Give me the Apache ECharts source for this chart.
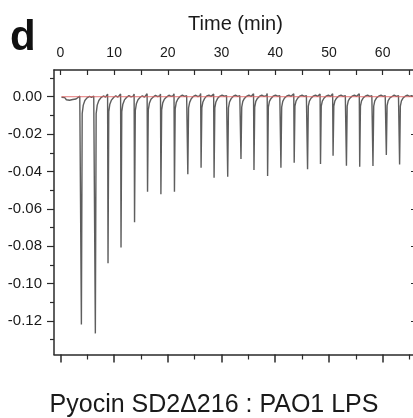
<!DOCTYPE html>
<html>
<head>
<meta charset="utf-8">
<script src="https://cdn.jsdelivr.net/npm/echarts@6/dist/echarts.min.js"></script>
<style>html,body{margin:0;padding:0;background:#fff;}#c{width:413px;height:418px;}</style>
</head>
<body>
<div id="c"></div>
<script>
// Time axis ticks (min)
const timeTicks = [0, 10, 20, 30, 40, 50, 60];
const timeMinorTicks = [5, 15, 25, 35, 45, 55, 65];
// Heat-rate axis ticks
const heatTicks = [0, -0.02, -0.04, -0.06, -0.08, -0.10, -0.12];
const heatMinorTicks = [0.01, -0.01, -0.03, -0.05, -0.07, -0.09, -0.11, -0.13];
// Baseline fit (red line)
const baselineFit = [[0.2, 0], [66.6, 0]];
// Raw ITC trace [time (min), heat rate]
const rawTrace = [
  [0.2,-0.0003],[0.5,-0.0012],[0.8,-0.0005],[1.1,-0.0016],[1.4,-0.0008],[1.7,-0.0019],[2.0,-0.001],[2.3,-0.0015],[2.6,-0.0006],[2.9,-0.0012],[3.2,-0.0004],[3.6,0.0003],[3.8,0.0012],
  [3.9,-0.1218],[4.05,-0.009],[4.25,-0.0045],[4.55,-0.002],[4.95,-0.0006],[5.4,0.0002],[5.8,-0.0003],[6.2,0.0004],[6.4,0.0013],
  [6.5,-0.1266],[6.65,-0.009],[6.85,-0.0045],[7.15,-0.002],[7.55,-0.0005],[8.0,0.0004],[8.4,-0.0002],[8.65,0.0003],[8.78,0.0014],
  [8.86,-0.0891],[9.0,-0.008],[9.2,-0.004],[9.5,-0.0018],[9.9,-0.0004],[10.3,0.0005],[10.7,-0.0002],[11.05,0.0004],[11.2,0.0015],
  [11.28,-0.0806],[11.42,-0.008],[11.62,-0.004],[11.92,-0.0017],[12.3,-0.0004],[12.75,0.0006],[13.15,-0.0001],[13.55,0.0003],[13.72,0.0014],
  [13.8,-0.0672],[13.94,-0.0075],[14.14,-0.0038],[14.44,-0.0016],[14.85,-0.0003],[15.25,0.0005],[15.65,-0.0002],[16.0,0.0004],[16.14,0.0016],
  [16.22,-0.0508],[16.36,-0.007],[16.56,-0.0035],[16.86,-0.0014],[17.25,-0.0002],[17.7,0.0007],[18.1,0.0001],[18.5,0.0004],[18.63,0.0015],
  [18.71,-0.0522],[18.85,-0.007],[19.05,-0.0033],[19.35,-0.0013],[19.75,-0.0002],[20.2,0.0008],[20.6,0.0002],[21.0,0.0005],[21.15,0.0016],
  [21.23,-0.0508],[21.37,-0.0065],[21.57,-0.003],[21.87,-0.0012],[22.25,0.0001],[22.7,0.0009],[23.1,0.0002],[23.5,0.0005],[23.64,0.0015],
  [23.72,-0.0415],[23.86,-0.006],[24.06,-0.003],[24.36,-0.0011],[24.75,0.0002],[25.2,0.0008],[25.6,0.0001],[25.98,0.0006],[26.11,0.0017],
  [26.19,-0.038],[26.33,-0.006],[26.53,-0.0028],[26.83,-0.001],[27.2,0.0003],[27.65,0.0009],[28.05,0.0002],[28.4,0.0005],[28.53,0.0014],
  [28.61,-0.0433],[28.75,-0.006],[28.95,-0.0028],[29.25,-0.001],[29.65,0.0002],[30.1,0.0009],[30.5,0.0003],[30.93,0.0006],[31.07,0.0016],
  [31.15,-0.0428],[31.29,-0.006],[31.49,-0.0028],[31.79,-0.001],[32.2,0.0003],[32.6,0.0008],[33.0,0.0002],[33.4,0.0005],[33.54,0.0015],
  [33.62,-0.0333],[33.76,-0.0055],[33.96,-0.0025],[34.26,-0.0009],[34.65,0.0002],[35.1,0.0009],[35.5,0.0001],[35.83,0.0006],[35.96,0.0016],
  [36.04,-0.0392],[36.18,-0.0055],[36.38,-0.0025],[36.68,-0.0009],[37.1,0.0003],[37.5,0.0008],[37.9,0.0002],[38.37,0.0006],[38.5,0.0017],
  [38.58,-0.0424],[38.72,-0.0055],[38.92,-0.0025],[39.22,-0.0009],[39.6,0.0003],[40.05,0.0009],[40.45,0.0003],[40.85,0.0005],[40.98,0.0015],
  [41.06,-0.038],[41.2,-0.0055],[41.4,-0.0025],[41.7,-0.0008],[42.1,0.0003],[42.55,0.0009],[42.95,0.0002],[43.32,0.0006],[43.45,0.0016],
  [43.53,-0.0353],[43.67,-0.005],[43.87,-0.0023],[44.17,-0.0008],[44.55,0.0003],[45.0,0.0008],[45.4,0.0002],[45.8,0.0006],[45.94,0.0016],
  [46.02,-0.0388],[46.16,-0.005],[46.36,-0.0023],[46.66,-0.0008],[47.05,0.0003],[47.5,0.0009],[47.9,0.0002],[48.22,0.0005],[48.35,0.0015],
  [48.43,-0.036],[48.57,-0.005],[48.77,-0.0023],[49.07,-0.0008],[49.45,0.0003],[49.9,0.0008],[50.3,0.0002],[50.56,0.0006],[50.69,0.0016],
  [50.77,-0.0316],[50.91,-0.005],[51.11,-0.0022],[51.41,-0.0008],[51.8,0.0003],[52.25,0.0009],[52.65,0.0002],[53.05,0.0006],[53.18,0.0015],
  [53.26,-0.0369],[53.4,-0.005],[53.6,-0.0022],[53.9,-0.0008],[54.3,0.0003],[54.75,0.0008],[55.15,0.0002],[55.52,0.0006],[55.65,0.0016],
  [55.73,-0.0375],[55.87,-0.005],[56.07,-0.0022],[56.37,-0.0007],[56.75,0.0003],[57.2,0.0009],[57.6,0.0002],[57.99,0.0005],[58.12,0.0015],
  [58.2,-0.0371],[58.34,-0.005],[58.54,-0.0022],[58.84,-0.0007],[59.25,0.0003],[59.7,0.0008],[60.1,0.0002],[60.48,0.0006],[60.61,0.0016],
  [60.69,-0.0312],[60.83,-0.0048],[61.03,-0.0021],[61.33,-0.0007],[61.7,0.0003],[62.15,0.0009],[62.55,0.0002],[62.95,0.0006],[63.08,0.0015],
  [63.16,-0.0362],[63.3,-0.005],[63.5,-0.0022],[63.8,-0.0007],[64.2,0.0003],[64.6,0.0008],[65.0,0.0002],[65.4,0.0006],[65.8,0.0001],[66.2,0.0004],[66.6,0.0002]
];

const FONT = 'Liberation Sans, Arial, sans-serif';
const AX = '#2a2a2a';
const X_MIN = -1.2, X_MAX = 66.4;
const Y_MIN = -0.1379, Y_MAX = 0.0143;

const chart = echarts.init(document.getElementById('c'), null, {renderer: 'canvas'});
const xBase = {type: 'value', gridIndex: 0, min: X_MIN, max: X_MAX, splitLine: {show: false}};
const yBase = {type: 'value', gridIndex: 0, min: Y_MIN, max: Y_MAX, splitLine: {show: false}};

chart.setOption({
  animation: false,
  backgroundColor: '#fff',
  grid: {left: 54, top: 70, width: 363, height: 284.5, containLabel: false, outerBoundsMode: 'none'},
  xAxis: [
    Object.assign({}, xBase, {
      position: 'bottom',
      axisLine: {show: true, onZero: false, lineStyle: {color: AX, width: 1.5}},
      axisTick: {show: true, inside: false, length: 8, customValues: timeTicks, lineStyle: {color: AX, width: 1.5}},
      axisLabel: {show: false}
    }),
    Object.assign({}, xBase, {
      position: 'bottom',
      axisLine: {show: false, onZero: false},
      axisTick: {show: true, inside: false, length: 5, customValues: timeMinorTicks, lineStyle: {color: AX, width: 1.2}},
      axisLabel: {show: false}
    }),
    Object.assign({}, xBase, {
      position: 'top',
      name: 'Time (min)',
      nameLocation: 'middle',
      nameGap: 36,
      nameTextStyle: {fontFamily: FONT, fontSize: 20, color: '#1a1a1a'},
      axisLine: {show: true, onZero: false, lineStyle: {color: AX, width: 1.5}},
      axisTick: {show: true, inside: true, length: 5, customValues: timeTicks.concat(timeMinorTicks), lineStyle: {color: AX, width: 1.2}},
      axisLabel: {show: true, customValues: timeTicks, margin: 10, fontFamily: FONT, fontSize: 14, color: '#1a1a1a'}
    })
  ],
  yAxis: [
    Object.assign({}, yBase, {
      position: 'left',
      axisLine: {show: true, onZero: false, lineStyle: {color: AX, width: 1.5}},
      axisTick: {show: true, inside: false, length: 7, customValues: heatTicks, lineStyle: {color: AX, width: 1.2}},
      axisLabel: {show: true, customValues: heatTicks, margin: 12, fontFamily: FONT, fontSize: 15, color: '#1a1a1a',
        formatter: v => v.toFixed(2)}
    }),
    Object.assign({}, yBase, {
      position: 'left',
      axisLine: {show: false, onZero: false},
      axisTick: {show: true, inside: false, length: 4, customValues: heatMinorTicks, lineStyle: {color: AX, width: 1.2}},
      axisLabel: {show: false}
    }),
    Object.assign({}, yBase, {
      position: 'right',
      axisLine: {show: true, onZero: false, lineStyle: {color: AX, width: 1.5}},
      axisTick: {show: true, inside: true, length: 6, customValues: heatTicks, lineStyle: {color: AX, width: 1.2}},
      axisLabel: {show: false}
    })
  ],
  series: [
    {
      type: 'line', xAxisIndex: 0, yAxisIndex: 0, data: rawTrace,
      showSymbol: false, symbol: 'none', clip: true,
      lineStyle: {color: '#5e5e5e', width: 1.4}
    },
    {
      type: 'line', xAxisIndex: 0, yAxisIndex: 0, data: baselineFit,
      showSymbol: false, symbol: 'none', clip: true,
      lineStyle: {color: 'rgba(225,95,95,0.85)', width: 1}
    }
  ],
  graphic: [
    {type: 'text', left: 10, top: 17, style: {text: 'd', font: 'bold 42px ' + FONT, fill: '#111'}},
    {type: 'text', x: 214, y: 405, style: {text: 'Pyocin SD2\u0394216 : PAO1 LPS', font: '25px ' + FONT, fill: '#1a1a1a', align: 'center', verticalAlign: 'middle'}}
  ]
});
</script>
</body>
</html>
